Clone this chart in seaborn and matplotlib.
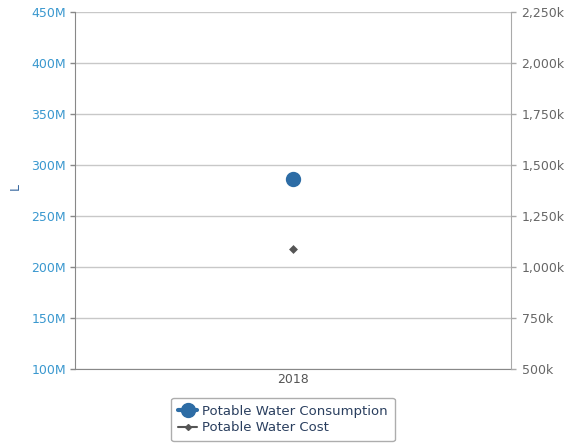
import matplotlib
matplotlib.use("Agg")
import matplotlib.pyplot as plt
import seaborn as sns
import pandas as pd
from matplotlib.ticker import FuncFormatter, FixedLocator
from matplotlib.lines import Line2D

years = ["2018"]
consumption = [286e6]
cost = [1088e3]
left_ticks = [100e6, 150e6, 200e6, 250e6, 300e6, 350e6, 400e6, 450e6]
right_ticks = [500e3, 750e3, 1000e3, 1250e3, 1500e3, 1750e3, 2000e3, 2250e3]

sns.set_style("white")
plt.rcParams['font.family'] = ['DejaVu Sans']

df = pd.DataFrame({"year": years, "consumption": consumption, "cost": cost})

fig = plt.figure(figsize=(5.76, 4.45), dpi=100)
ax = fig.add_axes([75/576, 1-369/445, (511-75)/576, (369-12)/445])
ax2 = ax.twinx()

sns.pointplot(data=df, x="year", y="consumption", ax=ax, color="#2d6ca5",
              markers="o", markersize=9, linestyles="-", errorbar=None)
sns.pointplot(data=df, x="year", y="cost", ax=ax2, color="#555555",
              markers="D", markersize=2.5, linestyles="-", errorbar=None)

ax.set_xlim(-0.5, 0.5)
ax.set_ylim(100e6, 450e6)
ax2.set_ylim(500e3, 2250e3)
ax.yaxis.set_major_locator(FixedLocator(left_ticks))
ax2.yaxis.set_major_locator(FixedLocator(right_ticks))
ax.yaxis.set_major_formatter(FuncFormatter(lambda v, p: f"{v/1e6:.0f}M"))
ax2.yaxis.set_major_formatter(FuncFormatter(lambda v, p: f"{v/1e3:,.0f}k"))

ax.grid(axis="y", color="#c8c8c8", linewidth=1)
ax.set_axisbelow(True)
for a in (ax, ax2):
    for s in a.spines.values():
        s.set_visible(False)
ax.spines["left"].set_visible(True)
ax.spines["left"].set_color("#888888")
ax.spines["bottom"].set_visible(True)
ax.spines["bottom"].set_color("#888888")
ax2.spines["right"].set_visible(True)
ax2.spines["right"].set_color("#aaaaaa")

ax.tick_params(axis="y", colors="#888888", labelcolor="#3a98cf", labelsize=9,
               direction="out", length=3.6, width=1, left=True, pad=3)
ax.tick_params(axis="x", labelcolor="#555555", labelsize=9, length=0, pad=3)
ax2.tick_params(axis="y", colors="#aaaaaa", labelcolor="#666666", labelsize=9,
                direction="out", length=3.6, width=1, right=True, pad=4)

ax.set_xlabel("")
ax2.set_ylabel("")
ax.set_ylabel("")
fig.text(15/576, 1-187/445, "L", color="#3a6aa0", fontsize=9, rotation=90,
         ha="center", va="center")

handles = [
    Line2D([0], [0], color="#2d6ca5", marker="o", markersize=10, linewidth=3),
    Line2D([0], [0], color="#555555", marker="D", markersize=3, linewidth=1.5),
]
leg = fig.legend(handles, ["Potable Water Consumption", "Potable Water Cost"],
                 loc="center", bbox_to_anchor=(283/576, 1-419.5/445), frameon=True,
                 fontsize=9.5, handlelength=1.4, handletextpad=0.4, labelspacing=0.25,
                 borderpad=0.55, fancybox=True)
leg.get_frame().set_edgecolor("#999999")
for t in leg.get_texts():
    t.set_color("#2a3f5f")

fig.savefig("out.png", dpi=100)
